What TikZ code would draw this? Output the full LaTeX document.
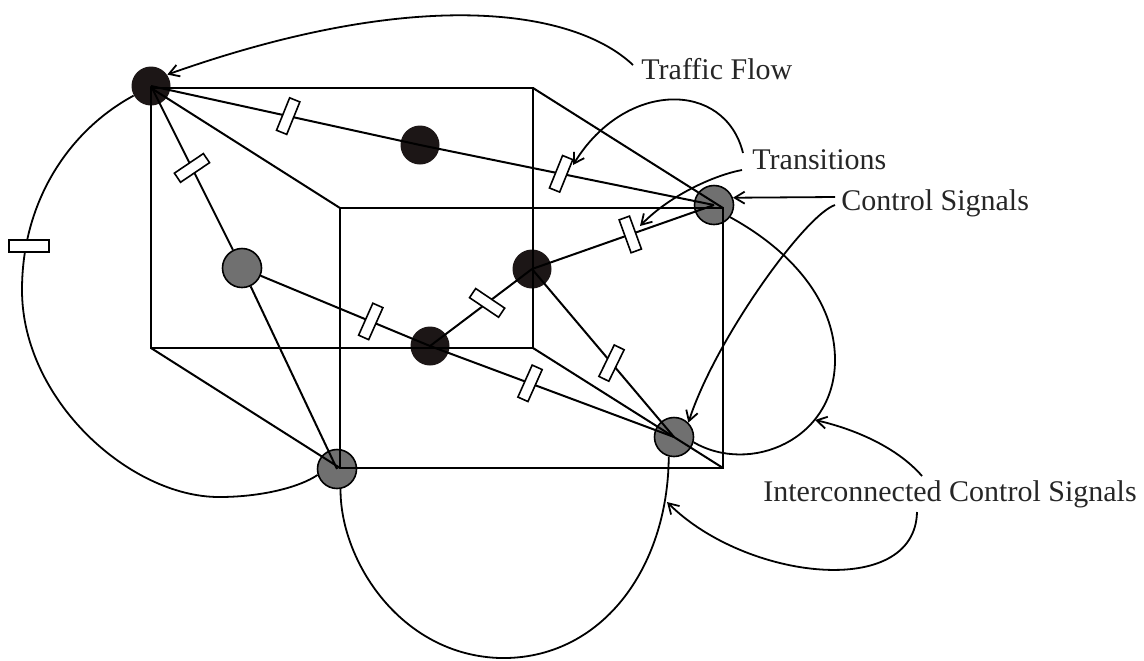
\documentclass[tikz,border=0pt]{standalone}
\usepackage{fontspec}
\setmainfont{Liberation Serif}
\usetikzlibrary{arrows.meta}
\definecolor{nodeblack}{RGB}{28,22,22}
\definecolor{nodegray}{RGB}{112,112,112}
\tikzset{
  boxln/.style={line width=1pt, black},
  edgeln/.style={line width=1pt, black},
  curv/.style={line width=0.9pt, black},
  arrw/.style={curv, -{Straight Barb[length=5pt,width=6pt]}},
  blk/.style={circle, fill=nodeblack, minimum size=19.5pt, inner sep=0pt},
  gry/.style={circle, fill=nodegray, draw=black, line width=0.8pt, minimum size=19.5pt, inner sep=0pt},
  tbar/.style={rectangle, draw=black, fill=white, line width=0.8pt, minimum width=17.5pt, minimum height=5.5pt, inner sep=0pt},
  hbar/.style={rectangle, draw=black, fill=white, line width=0.8pt, minimum width=20pt, minimum height=6pt, inner sep=0pt},
  lbl/.style={anchor=base west, inner sep=0pt, text=black!85, font=\fontsize{15pt}{18pt}\selectfont}
}
\begin{document}
\begin{tikzpicture}[x=0.5pt, y=-0.5pt]
\useasboundingbox (0,0) rectangle (1144,660);
% places
\node[blk] (A) at (151,86) {};
\node[blk] (B) at (420,145) {};
\node[gry] (C) at (714,205) {};
\node[gry] (D) at (242,268) {};
\node[blk] (E) at (532,269) {};
\node[blk] (F) at (430,346) {};
\node[gry] (G) at (337,469) {};
\node[gry] (H) at (674,437) {};
% box
\draw[boxln] (151,88) rectangle (533,348);
\draw[boxln] (340,208) rectangle (723,468);
\draw[boxln] (151,88) -- (340,208) (533,88) -- (723,208) (151,348) -- (340,468) (533,348) -- (723,468);
% edges with transitions
\draw[edgeln] (A.center) -- node[tbar,pos=.51,rotate=68] (tAB) {} (B.center);
\draw[edgeln] (B.center) -- node[tbar,pos=.48,rotate=68] (tBC) {} (C.center);
\draw[edgeln] (A.center) -- node[tbar,pos=.50,rotate=34] (tAD) {} (D);
\draw[edgeln] (D) -- node[tbar,pos=.65,rotate=66] (tDF) {} (F.center);
\draw[edgeln] (F.center) -- node[tbar,pos=.56,rotate=-34] (tFE) {} (E.center);
\draw[edgeln] (E.center) -- node[tbar,pos=.54,rotate=-70] (tEC) {} (C.center);
\draw[edgeln] (E.center) -- node[tbar,pos=.56,rotate=64] (tEH) {} (H.center);
\draw[edgeln] (F.center) -- node[tbar,pos=.41,rotate=66] (tFH) {} (H.center);
\draw[edgeln] (D) -- (G.center);
% loops
\draw[curv] (A.209) .. controls (70,130) and (22,200) .. (22,290)
  .. controls (22,400) and (130,497) .. (219,497)
  .. controls (262,497) and (300,487) .. (G.197);
\node[hbar] (tL) at (29,246) {};
\draw[curv] (G.-80) .. controls (340,560) and (400,655) .. (500,658)
  .. controls (600,660) and (668,570) .. (H.-105);
\draw[curv] (C.-37) .. controls (790,250) and (835,300) .. (835,360)
  .. controls (835,440) and (750,475) .. (H.-15);
% labels
\node[lbl] (tf) at (641,79) {Traffic Flow};
\node[lbl] (tr) at (752,169) {Transitions};
\node[lbl] (cs) at (841,210) {Control Signals};
\node[lbl] (ic) at (763,501) {Interconnected Control Signals};
% label connectors
\coordinate (tf0) at (633,65);
\coordinate (tr1) at (743,153);
\coordinate (tr1e) at (573,165);
\coordinate (tr2) at (742,170);
\coordinate (tr2e) at (640,226);
\coordinate (cs1) at (835,197);
\coordinate (cs2) at (835,205);
\coordinate (ic1) at (922,476);
\coordinate (ic1e) at (815,420);
\coordinate (ic2) at (917,512);
\coordinate (ic2e) at (667,502);
\draw[arrw] (tf0) .. controls (575,10) and (420,-15) .. (A.35);
\draw[arrw] (tr1) .. controls (725,80) and (625,80) .. (tr1e);
\draw[arrw] (tr2) .. controls (715,175) and (670,195) .. (tr2e);
\draw[arrw] (cs1) -- (C.21);
\draw[arrw] (cs2) .. controls (805,215) and (715,340) .. (H.45);
\draw[arrw] (ic1) .. controls (895,445) and (850,428) .. (ic1e);
\draw[arrw] (ic2) .. controls (915,600) and (745,580) .. (ic2e);
\end{tikzpicture}
\end{document}
